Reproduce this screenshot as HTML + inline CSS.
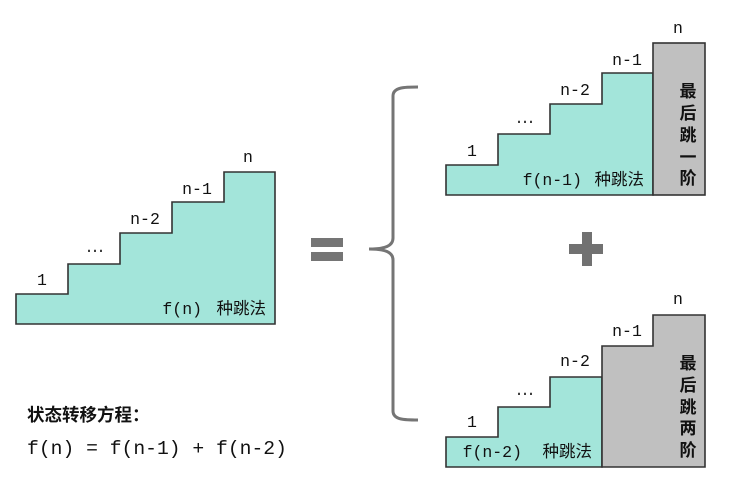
<!DOCTYPE html>
<html><head><meta charset="utf-8"><style>
html,body{margin:0;padding:0;background:#fff;}
svg{display:block;}
.m{font-family:"Liberation Mono","Noto Sans CJK SC",monospace;font-size:16.5px;fill:#111;}
.c{font-family:"Liberation Sans","Noto Sans CJK SC",sans-serif;font-size:16.5px;fill:#111;}
.g{font-family:"Liberation Sans","Noto Sans CJK SC",sans-serif;font-size:17px;font-weight:bold;fill:#111;}
.e{font-family:"DejaVu Sans",sans-serif;font-size:18px;fill:#333;}
</style></head><body>
<svg width="739" height="500" viewBox="0 0 739 500" xmlns="http://www.w3.org/2000/svg">
<!-- left staircase -->
<path d="M16,324 V294 H68 V264 H120 V233 H172 V202 H224 V172 H275 V324 Z" fill="#a3e5da" stroke="#333" stroke-width="1.6"/>
<text class="m" x="42" y="285" text-anchor="middle">1</text>
<text class="e" x="95" y="252" text-anchor="middle">…</text>
<text class="m" x="145" y="224" text-anchor="middle">n-2</text>
<text class="m" x="197" y="194" text-anchor="middle">n-1</text>
<text class="m" x="248" y="162" text-anchor="middle">n</text>
<text class="m" x="202" y="314" text-anchor="end">f(n)</text>
<text class="c" x="266" y="314" text-anchor="end">种跳法</text>

<!-- equals -->
<rect x="311" y="238" width="32" height="9" fill="#757575"/>
<rect x="311" y="252" width="32" height="9" fill="#757575"/>

<!-- brace -->
<path d="M418,87 C405,87 393,87 393,96 V238 C393,246 385,249 369,249 C385,249 393,252 393,260 V411 C393,420 405,420 418,420" fill="none" stroke="#757575" stroke-width="3"/>

<!-- top right -->
<path d="M446,195 V165 H498 V134 H550 V104 H602 V73 H653 V195 Z" fill="#a3e5da" stroke="#333" stroke-width="1.6"/>
<rect x="653" y="43" width="52" height="152" fill="#c0c0c0" stroke="#333" stroke-width="1.6"/>
<text class="m" x="472" y="156" text-anchor="middle">1</text>
<text class="e" x="525" y="123" text-anchor="middle">…</text>
<text class="m" x="575" y="95" text-anchor="middle">n-2</text>
<text class="m" x="627" y="65" text-anchor="middle">n-1</text>
<text class="m" x="678" y="33" text-anchor="middle">n</text>
<text class="m" x="582" y="185" text-anchor="end">f(n-1)</text>
<text class="c" x="644" y="185" text-anchor="end">种跳法</text>
<text class="g" x="688" y="97" text-anchor="middle">最</text>
<text class="g" x="688" y="119" text-anchor="middle">后</text>
<text class="g" x="688" y="141" text-anchor="middle">跳</text>
<text class="g" x="688" y="163" text-anchor="middle">一</text>
<text class="g" x="688" y="184" text-anchor="middle">阶</text>

<!-- plus -->
<rect x="582" y="232" width="10" height="34" fill="#717171"/>
<rect x="569" y="244" width="34" height="10" fill="#717171"/>

<!-- bottom right -->
<path d="M446,467 V437 H498 V407 H550 V377 H602 V467 Z" fill="#a3e5da" stroke="#333" stroke-width="1.6"/>
<path d="M602,467 V346 H653 V315 H705 V467 Z" fill="#c0c0c0" stroke="#333" stroke-width="1.6"/>
<text class="m" x="472" y="427" text-anchor="middle">1</text>
<text class="e" x="525" y="395" text-anchor="middle">…</text>
<text class="m" x="575" y="366" text-anchor="middle">n-2</text>
<text class="m" x="627" y="336" text-anchor="middle">n-1</text>
<text class="m" x="678" y="304" text-anchor="middle">n</text>
<text class="m" x="522" y="457" text-anchor="end">f(n-2)</text>
<text class="c" x="592" y="457" text-anchor="end">种跳法</text>
<text class="g" x="688" y="369" text-anchor="middle">最</text>
<text class="g" x="688" y="391" text-anchor="middle">后</text>
<text class="g" x="688" y="413" text-anchor="middle">跳</text>
<text class="g" x="688" y="434" text-anchor="middle">两</text>
<text class="g" x="688" y="456" text-anchor="middle">阶</text>

<!-- bottom text -->
<text x="27" y="421" style="font-family:'Liberation Sans','Noto Sans CJK SC',sans-serif;font-size:17.5px;font-weight:bold;fill:#111">状态转移方程：</text>
<text x="27" y="454" style="font-family:'Liberation Mono',monospace;font-size:19.7px;fill:#111">f(n) = f(n-1) + f(n-2)</text>
</svg>
</body></html>
